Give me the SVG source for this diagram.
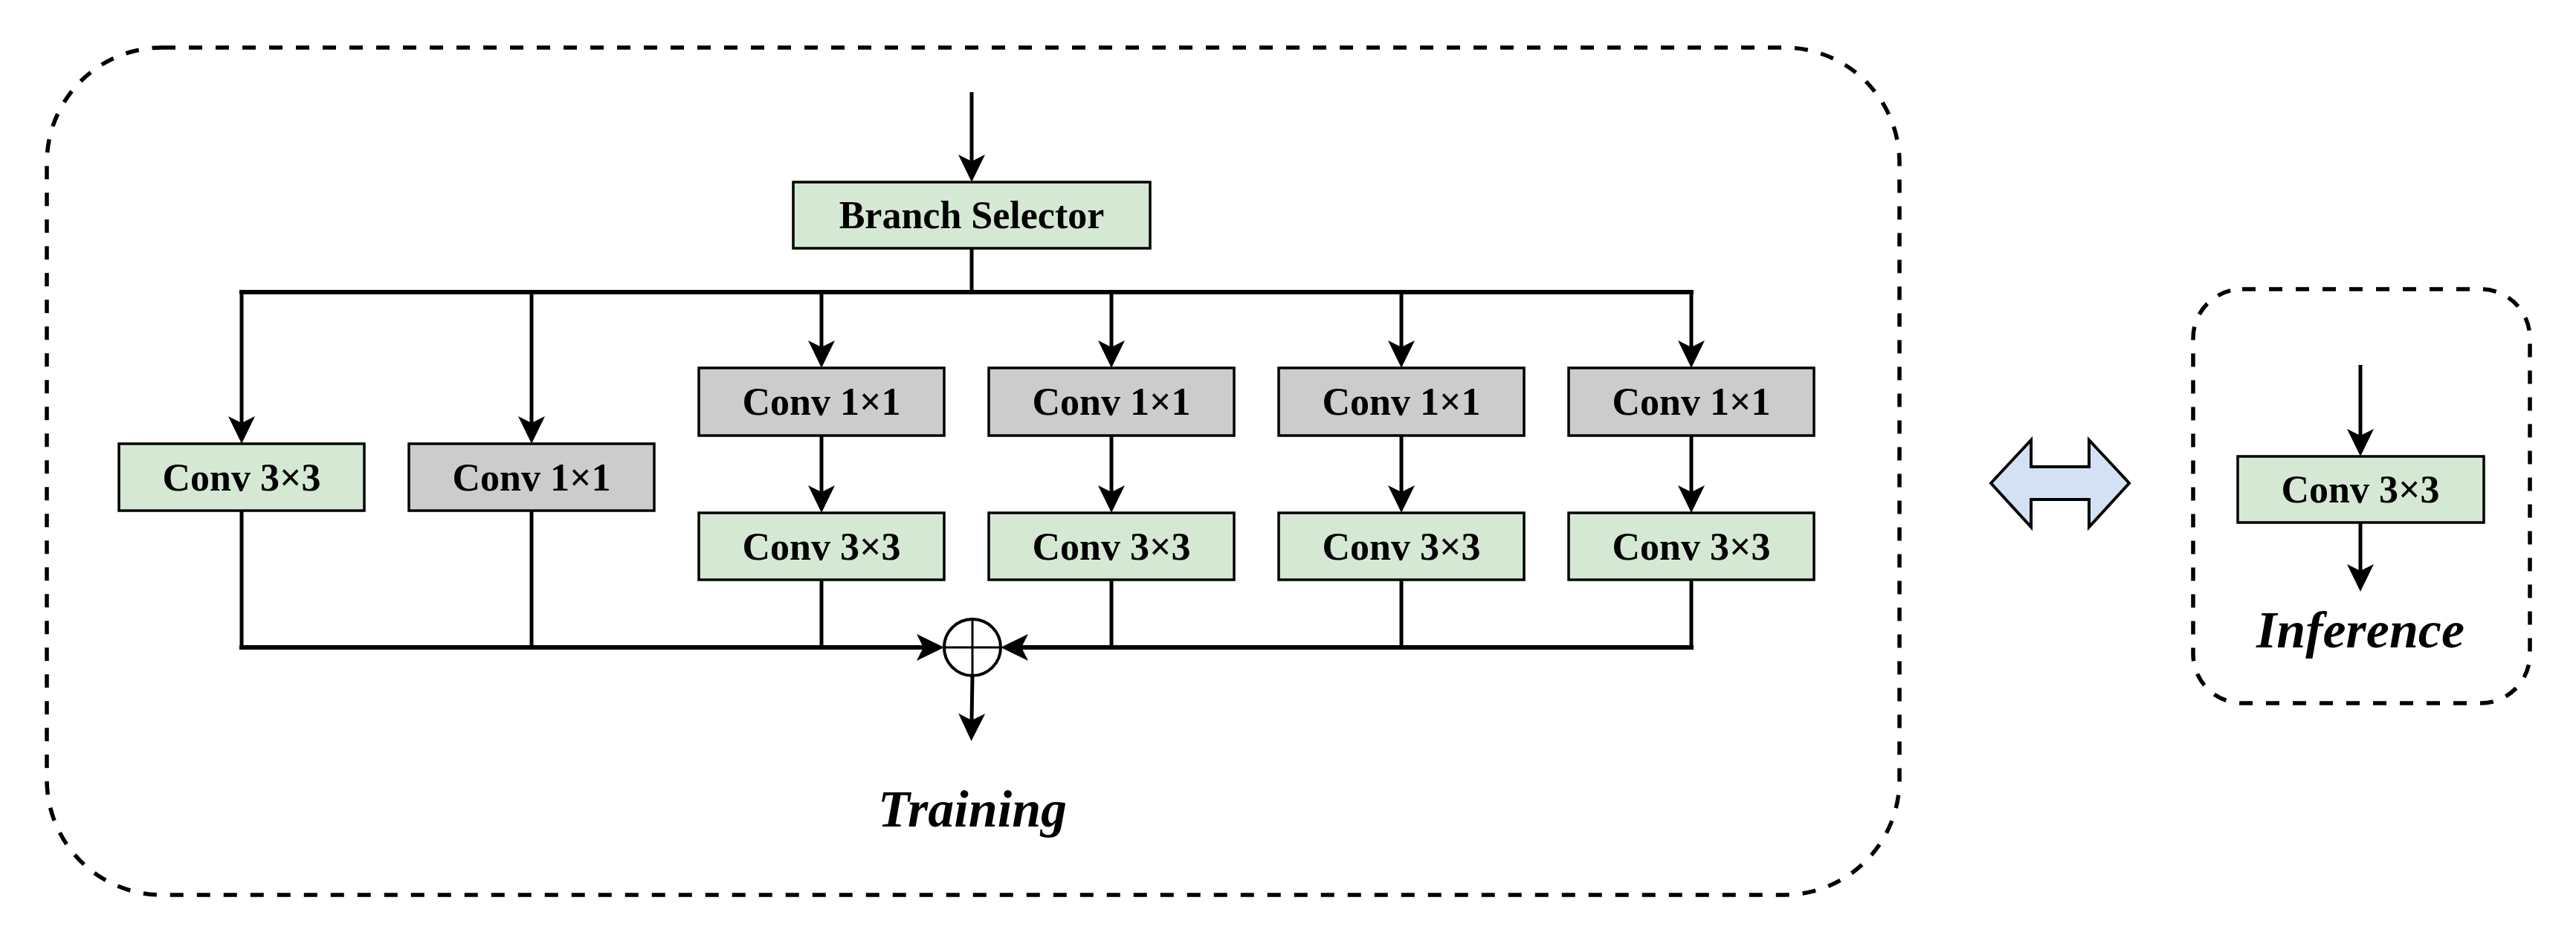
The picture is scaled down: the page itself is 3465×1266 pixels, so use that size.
<svg xmlns="http://www.w3.org/2000/svg" width="3465" height="1266" viewBox="0 0 3465 1266">
<style>
.frame{fill:none;stroke:#000;stroke-width:5.5;stroke-dasharray:18 18}
.green{fill:#D5E8D4;stroke:#000;stroke-width:3.5}
.gray{fill:#CCCCCC;stroke:#000;stroke-width:3.5}
.lbl{font-family:"Liberation Serif","Times New Roman",serif;font-weight:bold;font-size:52px;text-anchor:middle;fill:#000}
.title{font-family:"Liberation Serif","Times New Roman",serif;font-weight:bold;font-style:italic;font-size:70px;text-anchor:middle;fill:#000}
.wire{fill:none;stroke:#000;stroke-width:5}
.bus{fill:none;stroke:#000;stroke-width:6}
.arr{marker-end:url(#ah)}
</style>
<defs>
<marker id="ah" viewBox="-10 -20 40 40" refX="0" refY="0" markerWidth="40" markerHeight="40" markerUnits="userSpaceOnUse" orient="auto">
<path d="M28,0 L-9,-18 L0,0 L-9,18 Z" fill="#000"/>
</marker>
</defs>
<rect width="3465" height="1266" fill="#fff"/>

<g id="training-frame">
<rect class="frame" x="63" y="64" width="2492" height="1140" rx="155" ry="155"/>
<text class="title" x="1308" y="1112">Training</text>
</g>
<g id="inference-frame">
<rect class="frame" x="2950" y="389" width="453" height="557" rx="66" ry="66"/>
<text class="title" x="3175" y="871">Inference</text>
</g>

<g id="connectors">
<line class="wire arr" x1="1307" y1="124" x2="1307" y2="217"/>
<line class="wire" x1="1307" y1="334" x2="1307" y2="393"/>
<line class="bus" x1="322" y1="393" x2="2278" y2="393"/>
<line class="wire arr" x1="325" y1="393" x2="325" y2="569"/>
<line class="wire arr" x1="715" y1="393" x2="715" y2="569"/>
<line class="wire arr" x1="1105" y1="393" x2="1105" y2="467"/>
<line class="wire arr" x1="1495" y1="393" x2="1495" y2="467"/>
<line class="wire arr" x1="1885" y1="393" x2="1885" y2="467"/>
<line class="wire arr" x1="2275" y1="393" x2="2275" y2="467"/>
<line class="wire arr" x1="1105" y1="586" x2="1105" y2="662"/>
<line class="wire arr" x1="1495" y1="586" x2="1495" y2="662"/>
<line class="wire arr" x1="1885" y1="586" x2="1885" y2="662"/>
<line class="wire arr" x1="2275" y1="586" x2="2275" y2="662"/>
<line class="wire" x1="325" y1="687" x2="325" y2="871"/>
<line class="wire" x1="715" y1="687" x2="715" y2="871"/>
<line class="wire" x1="1105" y1="780" x2="1105" y2="871"/>
<line class="wire" x1="1495" y1="780" x2="1495" y2="871"/>
<line class="wire" x1="1885" y1="780" x2="1885" y2="871"/>
<line class="wire" x1="2275" y1="780" x2="2275" y2="871"/>
<line class="bus arr" x1="322" y1="871" x2="1242" y2="871"/>
<line class="bus arr" x1="2278" y1="871" x2="1374" y2="871"/>
<line class="wire arr" x1="1308" y1="909" x2="1307" y2="969"/>
<line class="wire arr" x1="3175" y1="491" x2="3175" y2="586"/>
<line class="wire arr" x1="3175" y1="703" x2="3175" y2="768"/>
</g>

<g id="branch-selector">
<rect class="green" x="1067" y="245" width="480" height="89"/>
<text class="lbl" x="1307" y="307">Branch Selector</text>
</g>
<g id="b1-conv3x3">
<rect class="green" x="160" y="597" width="330" height="90"/>
<text class="lbl" x="325" y="660">Conv 3×3</text>
</g>
<g id="b2-conv1x1">
<rect class="gray" x="550" y="597" width="330" height="90"/>
<text class="lbl" x="715" y="660">Conv 1×1</text>
</g>
<g id="b3-conv1x1">
<rect class="gray" x="940" y="495" width="330" height="91"/>
<text class="lbl" x="1105" y="558">Conv 1×1</text>
</g>
<g id="b3-conv3x3">
<rect class="green" x="940" y="690" width="330" height="90"/>
<text class="lbl" x="1105" y="753">Conv 3×3</text>
</g>
<g id="b4-conv1x1">
<rect class="gray" x="1330" y="495" width="330" height="91"/>
<text class="lbl" x="1495" y="558">Conv 1×1</text>
</g>
<g id="b4-conv3x3">
<rect class="green" x="1330" y="690" width="330" height="90"/>
<text class="lbl" x="1495" y="753">Conv 3×3</text>
</g>
<g id="b5-conv1x1">
<rect class="gray" x="1720" y="495" width="330" height="91"/>
<text class="lbl" x="1885" y="558">Conv 1×1</text>
</g>
<g id="b5-conv3x3">
<rect class="green" x="1720" y="690" width="330" height="90"/>
<text class="lbl" x="1885" y="753">Conv 3×3</text>
</g>
<g id="b6-conv1x1">
<rect class="gray" x="2110" y="495" width="330" height="91"/>
<text class="lbl" x="2275" y="558">Conv 1×1</text>
</g>
<g id="b6-conv3x3">
<rect class="green" x="2110" y="690" width="330" height="90"/>
<text class="lbl" x="2275" y="753">Conv 3×3</text>
</g>
<g id="sum">
<circle cx="1308" cy="871" r="38" fill="#fff" stroke="#000" stroke-width="4"/>
<line x1="1270" y1="871" x2="1346" y2="871" stroke="#000" stroke-width="3"/>
<line x1="1308" y1="833" x2="1308" y2="909" stroke="#000" stroke-width="3"/>
</g>
<g id="swap-arrow">
<polygon points="2678,650 2732,592 2732,628 2810,628 2810,592 2864,650 2810,709 2810,672 2732,672 2732,709" fill="#D4E1F5" stroke="#000" stroke-width="4"/>
</g>
<g id="inf-conv3x3">
<rect class="green" x="3010" y="614" width="331" height="89"/>
<text class="lbl" x="3175" y="676">Conv 3×3</text>
</g>
</svg>
